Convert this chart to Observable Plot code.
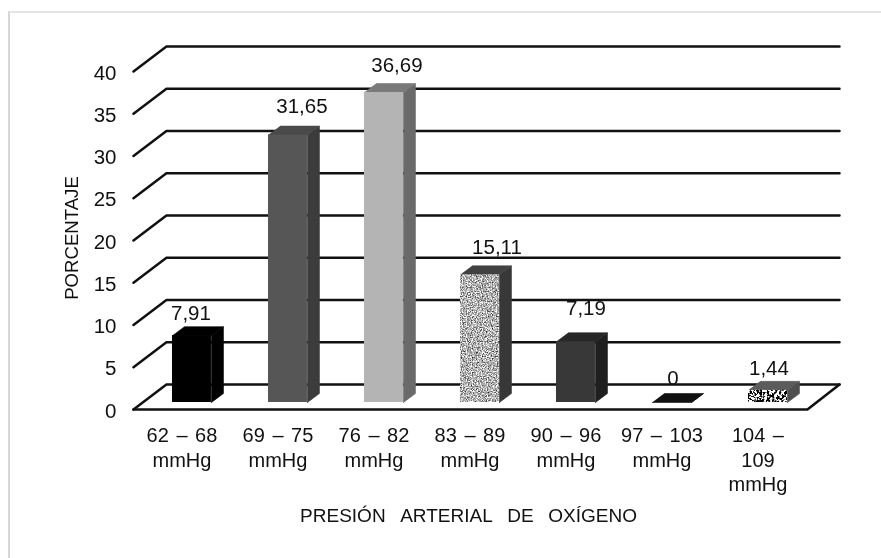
<!DOCTYPE html>
<html>
<head>
<meta charset="utf-8">
<script src="https://cdn.jsdelivr.net/npm/d3@7"></script>
<script src="https://cdn.jsdelivr.net/npm/@observablehq/plot@0.6"></script>
<style>
  html, body { margin: 0; padding: 0; background: #fff; }
  #wrap { position: relative; width: 881px; height: 558px; overflow: hidden; }
  #wrap svg { display: block; filter: blur(0.45px); }
  #edge { position: absolute; left: 8px; top: 11px; right: -4px; bottom: -4px;
          border-left: 2px solid #d6d6d6; border-top: 2px solid #e4e4e4; }
</style>
</head>
<body>
<div id="wrap"><div id="edge"></div></div>
<script>
const categories = ["62 – 68\nmmHg", "69 – 75\nmmHg", "76 – 82\nmmHg", "83 – 89\nmmHg", "90 – 96\nmmHg", "97 – 103\nmmHg", "104 –\n109\nmmHg"];
const values = [7.91, 31.65, 36.69, 15.11, 7.19, 0, 1.44];
const valueLabels = ["7,91", "31,65", "36,69", "15,11", "7,19", "0", "1,44"];
const yTicks = [0, 5, 10, 15, 20, 25, 30, 35, 40];

const frontFills = ["#000000", "#565656", "#b4b4b4", "url(#grainFine)", "#383838", "#111111", "url(#grainCoarse)"];
const sideFills = ["#000000", "#3c3c3c", "#6a6a6a", "#383838", "#1f1f1f", "#111111", "#4f4f4f"];
const topFills = ["#000000", "#4a4a4a", "#7a7a7a", "#414141", "#272727", "#111111", "#5c5c5c"];
const labelDx = [-1, 14, 13, 17, 10, 1, 1];
const labelDy = [-22, -29, -27, -27, -33, -24, -22];

// Pseudo-3D box geometry, in scale units (category index, percent)
const barHalf = 0.203, barDepthX = 0.125, barDepthY = 1.06;
const floorFront = -0.83, wallBack = 2.13;
const xFrontLeft = -0.609, xFrontRight = 6.411, xBackLeft = -0.266, xBackRight = 6.745;

const gridRows = yTicks.flatMap(v => [
  {id: v, x: xFrontLeft, y: v + floorFront},
  {id: v, x: xBackLeft, y: v + wallBack},
  {id: v, x: xBackRight, y: v + wallBack}
]);
const floorEdge = [
  {x: xFrontLeft, y: floorFront},
  {x: xFrontRight, y: floorFront},
  {x: xBackRight, y: wallBack}
];
const face = pts => pts.map(([x, y]) => ({x, y}));

const barMarks = values.flatMap((v, i) => {
  const l = i - barHalf, r = i + barHalf, rb = r + barDepthX, lb = l + barDepthX;
  const marks = [];
  marks.push(Plot.line(face([[r, 0], [rb, barDepthY], [rb, v + barDepthY], [r, v], [r, 0]]),
    {x: "x", y: "y", fill: sideFills[i], stroke: sideFills[i], strokeWidth: 0.6, curve: "linear"}));
  marks.push(Plot.line(face([[l, v], [r, v], [rb, v + barDepthY], [lb, v + barDepthY], [l, v]]),
    {x: "x", y: "y", fill: topFills[i], stroke: topFills[i], strokeWidth: 0.6, curve: "linear"}));
  if (v > 0) marks.push(Plot.rect([{x1: l, x2: r, y1: 0, y2: v}],
    {x1: "x1", x2: "x2", y1: "y1", y2: "y2", fill: frontFills[i]}));
  return marks;
});

const labelMarks = values.map((v, i) => Plot.text([{x: i, y: v, t: valueLabels[i]}], {
  x: "x", y: "y", text: "t", dx: labelDx[i], dy: labelDy[i],
  fontSize: 20.5, fill: "#111", lineAnchor: "middle"
}));

const plot = Plot.plot({
  width: 881,
  height: 558,
  marginLeft: 133,
  marginRight: 42,
  marginTop: 46,
  marginBottom: 149,
  style: {fontFamily: "'Liberation Sans', Arial, sans-serif", background: "transparent", overflow: "visible", wordSpacing: "2px"},
  x: {type: "linear", domain: [xFrontLeft, xBackRight]},
  y: {type: "linear", domain: [floorFront, 40 + wallBack]},
  marks: [
    Plot.line(gridRows, {x: "x", y: "y", z: "id", stroke: "#111", strokeWidth: 2.5, curve: "linear"}),
    Plot.line(floorEdge, {x: "x", y: "y", stroke: "#111", strokeWidth: 2.6, curve: "linear"}),
    ...barMarks,
    ...labelMarks,
    Plot.axisY(yTicks, {
      anchor: "left", tickSize: 0, tickPadding: 17, dy: 8.5, label: null,
      fontSize: 20.5, fill: "#111"
    }),
    Plot.axisX(d3.range(categories.length), {
      anchor: "bottom", tickSize: 0, tickPadding: 15, dx: -10, label: null,
      tickFormat: i => categories[i], fontSize: 20, lineHeight: 1.23, fill: "#111"
    }),
    Plot.text(["PRESIÓN\u00A0\u00A0ARTERIAL\u00A0\u00A0DE\u00A0\u00A0OXÍGENO"], {
      frameAnchor: "bottom", lineAnchor: "middle", dx: -18, dy: 106,
      fontSize: 19, fill: "#111"
    }),
    Plot.text(["PORCENTAJE"], {
      frameAnchor: "left", textAnchor: "middle", rotate: -90, dx: -61, dy: 10,
      fontSize: 18.6, fill: "#111"
    })
  ]
});

plot.insertAdjacentHTML("afterbegin", `
  <defs>
    <filter id="noiseFine" x="0" y="0" width="100%" height="100%" color-interpolation-filters="sRGB">
      <feTurbulence type="fractalNoise" baseFrequency="0.8" numOctaves="2" seed="4"/>
      <feColorMatrix type="matrix" values="1.7 0 0 0 -0.15  1.7 0 0 0 -0.15  1.7 0 0 0 -0.15  0 0 0 0 1"/>
    </filter>
    <filter id="noiseCoarse" x="0" y="0" width="100%" height="100%" color-interpolation-filters="sRGB">
      <feTurbulence type="fractalNoise" baseFrequency="0.4" numOctaves="2" seed="9"/>
      <feColorMatrix type="matrix" values="9 0 0 0 -3.9  9 0 0 0 -3.9  9 0 0 0 -3.9  0 0 0 0 1"/>
    </filter>
    <pattern id="grainFine" patternUnits="userSpaceOnUse" width="80" height="160">
      <rect width="80" height="160" filter="url(#noiseFine)"/>
    </pattern>
    <pattern id="grainCoarse" patternUnits="userSpaceOnUse" width="80" height="80">
      <rect width="80" height="80" filter="url(#noiseCoarse)"/>
    </pattern>
  </defs>`);

document.getElementById("wrap").append(plot);
</script>
</body>
</html>
